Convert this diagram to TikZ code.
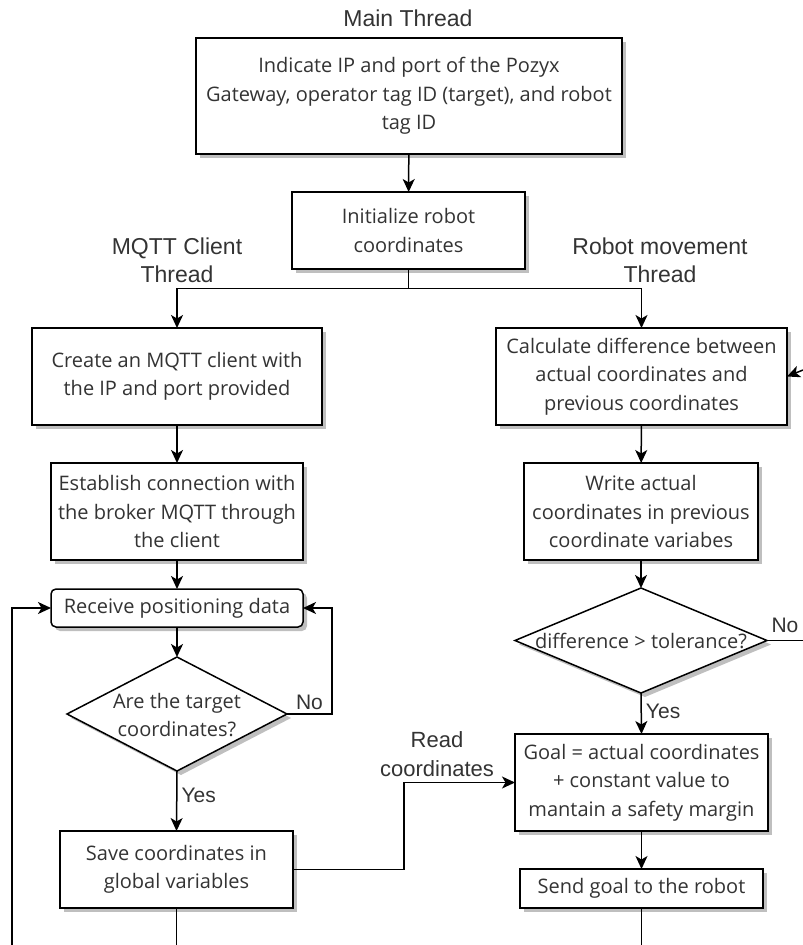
\documentclass[tikz,border=0pt]{standalone}
\usepackage{fontspec}
\setmainfont{Open Sans}
\newfontfamily\lblfont{Liberation Sans}
\usetikzlibrary{shapes.geometric,arrows.meta,backgrounds,calc}
\definecolor{txt}{HTML}{333333}
\definecolor{shadowgray}{HTML}{BFBFBF}
\begin{document}
\begin{tikzpicture}[x=1pt,y=-1pt,
  box/.style={draw=black, line width=1.5pt, fill=white, inner sep=0pt, outer sep=0pt,
    align=center, text=txt, font=\fontsize{20}{28.5}\selectfont},
  dia/.style={diamond, draw=black, line width=1.5pt, fill=white, inner sep=0pt, outer sep=0pt},
  dtext/.style={align=center, text=txt, font=\fontsize{20}{28}\selectfont, inner sep=0pt},
  lbl/.style={align=center, text=txt, font=\lblfont\fontsize{23}{28}\selectfont, inner sep=0pt},
  yn/.style={text=txt, font=\lblfont\fontsize{21}{26}\selectfont, inner sep=0pt},
  line/.style={line width=1.5pt, draw=black},
  arr/.style={line, -{Stealth[length=13pt,width=12pt,inset=3.5pt]}},
  shadowfill/.style={fill=shadowgray, draw=none}
]
\useasboundingbox (0,0) rectangle (803,945);

% labels
\node[lbl] (mainlbl) at (408,18) {Main Thread};
\node[lbl] (mqttlbl) at (177,260) {MQTT Client\\Thread};
\node[lbl] (robotlbl) at (660,260) {Robot movement\\Thread};

% main thread
\node[box, minimum width=426pt, minimum height=116pt] (b1) at (409,96)
  {Indicate IP and port of the Pozyx\\Gateway, operator tag ID (target), and robot\\tag ID};
\node[box, minimum width=233pt, minimum height=77pt] (b2) at (408.5,230.5)
  {Initialize robot\\coordinates};

% MQTT client thread
\node[box, minimum width=290pt, minimum height=97pt] (b3) at (177,376.5)
  {Create an MQTT client with\\the IP and port provided};
\node[box, minimum width=252pt, minimum height=97pt] (b4) at (177,511.5)
  {Establish connection with\\the broker MQTT through\\the client};
\node[box, rounded corners=5pt, minimum width=252pt, minimum height=38pt] (b5) at (177,608)
  {Receive positioning data};
\node[dia, minimum width=220pt, minimum height=114pt] (d1) at (177,714) {};
\node[dtext] (d1t) at (177,715) {Are the target\\coordinates?};
\node[box, minimum width=233pt, minimum height=77pt] (save) at (176.5,869.5)
  {Save coordinates in\\global variables};

% robot movement thread
\node[box, minimum width=291pt, minimum height=97pt] (r1) at (641.5,376.5)
  {Calculate difference between\\actual coordinates and\\previous coordinates};
\node[box, minimum width=234pt, minimum height=97pt] (r2) at (641,511.5)
  {Write actual\\coordinates in previous\\coordinate variabes};
\node[dia, minimum width=252pt, minimum height=105pt] (d2) at (641,640.5) {};
\node[dtext] (d2t) at (641,641) {difference > tolerance?};
\node[box, minimum width=253pt, minimum height=97pt] (goal) at (641.5,782.5)
  {Goal = actual coordinates\\+ constant value to\\mantain a safety margin};
\node[box, minimum width=243pt, minimum height=39pt] (send) at (641.5,888.5)
  {Send goal to the robot};

% shadows
\begin{scope}[on background layer]
  \foreach \n in {b1,b2,b3,b4,save,r1,r2,goal,send}{
    \fill[shadowfill] ($(\n.south west)+(4,4)$) rectangle ($(\n.north east)+(4,4)$);
  }
  \fill[shadowfill, rounded corners=5pt] ($(b5.south west)+(4,4)$) rectangle ($(b5.north east)+(4,4)$);
  \foreach \n in {d1,d2}{
    \fill[shadowfill] ($(\n.north)+(4,4)$) -- ($(\n.east)+(4,4)$) -- ($(\n.south)+(4,4)$) -- ($(\n.west)+(4,4)$) -- cycle;
  }
\end{scope}

% free-end coordinates
\coordinate (leftin) at (12,945);
\coordinate (savedown) at (176.5,945);
\coordinate (senddown) at (641.5,945);
\coordinate (noout) at (803,640.5);
\coordinate (rightin) at (803,370);

% connectors
\draw[arr] (b1) -- (b2);
\draw[arr] (b2.south) -- ++(0,19.5) -| (b3.north);
\draw[arr] (b2.south) -- ++(0,19.5) -| (r1.north);
\draw[arr] (b3) -- (b4);
\draw[arr] (b4) -- (b5);
\draw[arr] (b5) -- (d1);
\draw[arr] (d1.south) -- (save.north) node[yn, pos=0.4, right=4pt] (yes1) {Yes};
\draw[arr] (d1.east) -- (332,714) node[yn, pos=0.5, above=4pt] (no1) {No} |- (b5.east);
\draw[arr] (leftin) |- (b5.west);
\draw[line] (save.south) -- (savedown);
\draw[arr] (save.east) -- (404,869.5) |- (goal.west);
\node[lbl, font=\lblfont\fontsize{22}{28.5}\selectfont] (readlbl) at (437,754) {Read\\coordinates};

\draw[arr] (rightin) -- (r1.east);
\draw[arr] (r1) -- (r2);
\draw[arr] (r2) -- (d2);
\draw[line] (d2.east) -- (noout);
\node[yn] (no2) at (785,625) {No};
\draw[arr] (d2.south) -- (goal.north) node[yn, pos=0.45, right=4pt] (yes2) {Yes};
\draw[arr] (goal) -- (send);
\draw[line] (send.south) -- (senddown);
\end{tikzpicture}
\end{document}
